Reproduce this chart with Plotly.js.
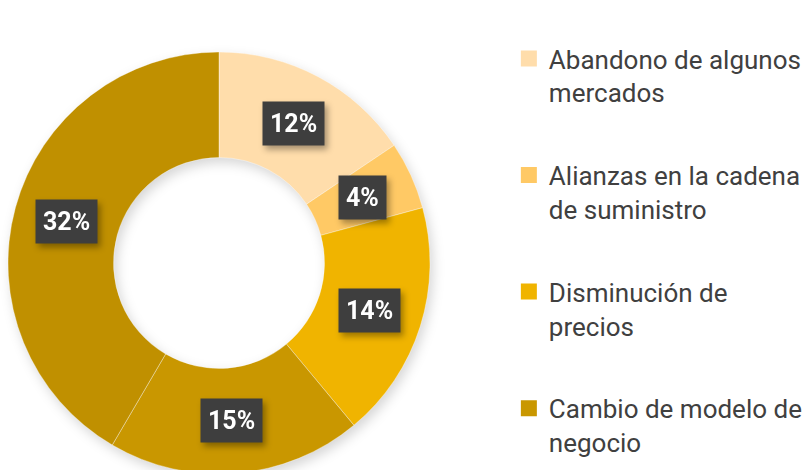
<!DOCTYPE html>
<html><head><meta charset="utf-8">
<script src="https://cdn.plot.ly/plotly-3.0.1.min.js"></script>
<style>
html,body{margin:0;padding:0;overflow:hidden;background:#fff;}
#chart{width:809px;height:600px;}
.pielayer{filter:drop-shadow(3px 5px 6px rgba(0,0,0,0.16));}
.annotation-text-g{filter:drop-shadow(3px 4px 3px rgba(0,0,0,0.35));}
</style></head><body><div id="chart"></div>
<script>
const categories = ["Abandono de algunos mercados", "Alianzas en la cadena de suministro", "Disminución de precios", "Cambio de modelo de negocio", "Otros"];
const legendLabels = ["Abandono de algunos<br>mercados", "Alianzas en la cadena<br>de suministro", "Disminución de<br>precios", "Cambio de modelo de<br>negocio", "Otros"];
const legendShown = [true, true, true, true, false];
const values = [12, 4, 14, 15, 32];
const valueLabels = ["12%", "4%", "14%", "15%", "32%"];
const colors = ["#FFDDAB", "#FFC965", "#F0B400", "#C99700", "#C09000"];

const W = 809, H = 600;
const domX = [8 / W, 430 / W];
const domY = [1 - 474 / H, 1 - 52 / H];
const hole = 0.5;

const pie = {
  type: "pie",
  labels: categories,
  values: values,
  sort: false,
  direction: "clockwise",
  rotation: 0,
  hole: hole,
  textinfo: "none",
  hoverinfo: "label+percent",
  showlegend: false,
  marker: {colors: colors, line: {color: "rgba(255,255,255,0.35)", width: 1}},
  domain: {x: domX, y: domY}
};

const legendTraces = categories.map((c, i) => ({
  type: "scatter",
  x: [null], y: [null],
  mode: "markers",
  name: legendLabels[i],
  legendgroup: "g" + i,
  showlegend: legendShown[i],
  marker: {symbol: "square", size: 16, color: colors[i]},
  hoverinfo: "skip"
}));

// label positions computed from the data through the pie geometry
const total = values.reduce((a, b) => a + b, 0);
const cxPx = (domX[0] + domX[1]) / 2 * W;
const cyPx = (1 - (domY[0] + domY[1]) / 2) * H;
const rPx = Math.min((domX[1] - domX[0]) * W, (domY[1] - domY[0]) * H) / 2;
const rMid = rPx * (1 + hole) / 2;
let cum = 0;
const annotations = values.map((v, i) => {
  const th = 2 * Math.PI * (cum + v / 2) / total;
  cum += v;
  const xp = cxPx + rMid * Math.sin(th);
  const yp = cyPx - rMid * Math.cos(th);
  return {
    xref: "paper", yref: "paper",
    x: xp / W, y: 1 - yp / H,
    xanchor: "center", yanchor: "middle",
    text: valueLabels[i], showarrow: false,
    bgcolor: "#3e3e3e", borderpad: 7,
    font: {family: "Roboto, sans-serif", size: 25, color: "#ffffff", weight: "bold"}
  };
});

const layout = {
  width: W, height: H,
  margin: {l: 0, r: 0, t: 0, b: 0},
  paper_bgcolor: "#ffffff", plot_bgcolor: "#ffffff",
  xaxis: {visible: false}, yaxis: {visible: false},
  showlegend: true,
  legend: {
    x: 0.629, xanchor: "left", y: 1 - 35 / H, yanchor: "top",
    font: {family: "Roboto, sans-serif", size: 26, color: "#404040"},
    valign: "top", tracegroupgap: 46, itemsizing: "trace",
    bgcolor: "rgba(0,0,0,0)"
  },
  annotations: annotations
};

Plotly.newPlot("chart", [pie].concat(legendTraces), layout, {displayModeBar: false, staticPlot: true});
</script></body></html>
